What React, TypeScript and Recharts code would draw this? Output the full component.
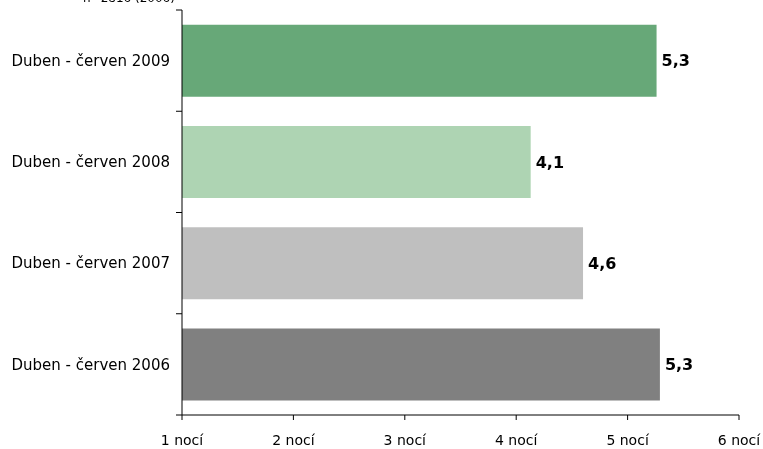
import React from "react";
import { BarChart, Bar, XAxis, YAxis, Cell, LabelList } from "recharts";

const periods = ["Duben - červen 2009", "Duben - červen 2008", "Duben - červen 2007", "Duben - červen 2006"];
const nights = [5.26, 4.13, 4.6, 5.29];
const barColors = ["#67a878", "#aed4b3", "#bfbfbf", "#808080"];
const xTicks = [1, 2, 3, 4, 5, 6];
const sampleNote = "n=2816 (2006)";

const data = periods.map((period, i) => ({ period, nights: nights[i] }));

const fmt = (v: number) => v.toFixed(1).replace(".", ",");

// category label plus a tick mark on the band boundaries (like Excel)
function PeriodTick(props: any) {
  const { x, y, payload, index } = props;
  const half = payload.offset || 0;
  const axisX = x + 12;
  return (
    <g>
      <text x={x} y={y} dy="0.35em" textAnchor="end" fill="#000" fontSize={15}>
        {payload.value}
      </text>
      <line x1={axisX - 6} x2={axisX} y1={y - half} y2={y - half} stroke="#000" />
      {index === periods.length - 1 && <line x1={axisX - 6} x2={axisX} y1={y + half} y2={y + half} stroke="#000" />}
    </g>
  );
}

export default function App() {
  return (
    <div style={{ position: "fixed", left: 0, top: 0, width: 763, height: 449, background: "#fff", fontFamily: "'DejaVu Sans', Verdana, sans-serif" }}>
      <div style={{ position: "absolute", left: 83, top: -9, fontSize: 12, color: "#000", whiteSpace: "nowrap" }}>
        {sampleNote}
      </div>
      <BarChart
        width={763}
        height={449}
        data={data}
        layout="vertical"
        margin={{ top: 10, right: 24, bottom: 0, left: 0 }}
        barCategoryGap="14.5%"
      >
        <XAxis
          type="number"
          dataKey="nights"
          domain={[1, 6]}
          ticks={xTicks}
          allowDataOverflow
          tickFormatter={(v: number) => `${v} nocí`}
          stroke="#000"
          tickSize={5}
          tickMargin={15}
          height={34}
          tick={{ fill: "#000", fontSize: 14 }}
        />
        <YAxis
          type="category"
          dataKey="period"
          width={182}
          stroke="#000"
          axisLine
          tickLine={false}
          tickSize={6}
          tickMargin={6}
          tick={<PeriodTick />}
        />
        <Bar dataKey="nights" isAnimationActive={false}>
          {data.map((d, i) => (
            <Cell key={d.period} fill={barColors[i]} />
          ))}
          <LabelList dataKey="nights" position="right" offset={5} formatter={(v: number) => fmt(v)} style={{ fill: "#000", fontSize: 16, fontWeight: "bold" }} />
        </Bar>
      </BarChart>
    </div>
  );
}
